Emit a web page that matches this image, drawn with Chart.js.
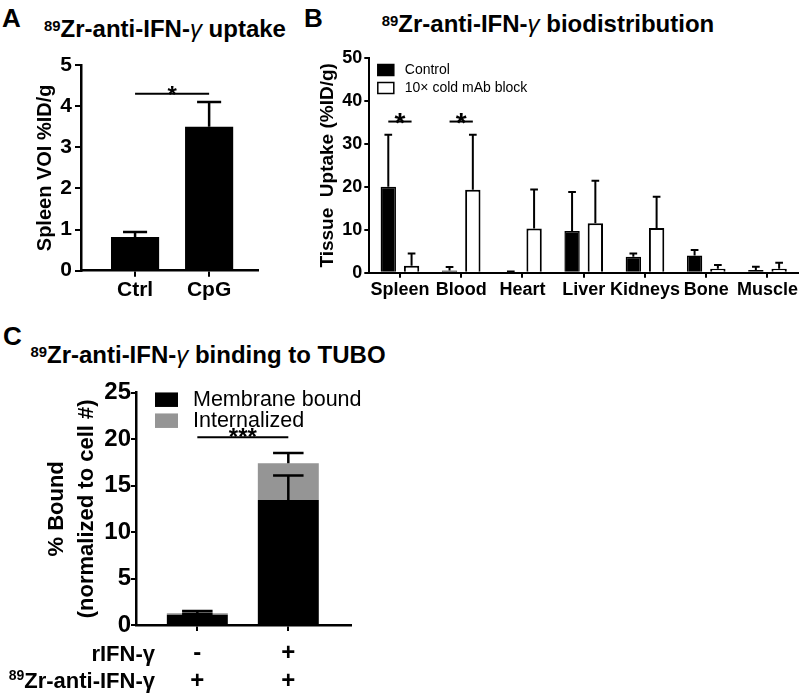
<!DOCTYPE html>
<html>
<head>
<meta charset="utf-8">
<script src="https://cdn.jsdelivr.net/npm/chart.js@4.4.1/dist/chart.umd.min.js"></script>
<style>
  body { margin: 0; background: #fff; width: 800px; height: 693px; position: relative; overflow: hidden;
         font-family: "Liberation Sans", Arial, sans-serif; color: #000; }
  canvas { position: absolute; }
  .txt { position: absolute; font-weight: bold; line-height: 1; white-space: nowrap; }
  .ttl { font-size: 24px; transform: translateX(-50%); }
  .letter { font-size: 26px; }
  sup { font-size: 0.62em; vertical-align: 0.42em; line-height: 0; }
  i { font-weight: normal; }
</style>
</head>
<body>
<div class="txt letter" style="left:2px;top:5px">A</div>
<div class="txt letter" style="left:304px;top:5px">B</div>
<div class="txt letter" style="left:3px;top:323px">C</div>
<div class="txt ttl" style="left:165px;top:17px"><sup>89</sup>Zr-anti-IFN-<i>γ</i> uptake</div>
<div class="txt ttl" style="left:548px;top:12px"><sup>89</sup>Zr-anti-IFN-<i>γ</i> biodistribution</div>
<div class="txt ttl" style="left:208px;top:343px"><sup>89</sup>Zr-anti-IFN-<i>γ</i> binding to TUBO</div>

<canvas id="chartA" width="300" height="270" style="left:0;top:40px;width:300px;height:270px"></canvas>
<canvas id="chartB" width="500" height="270" style="left:300px;top:40px;width:500px;height:270px"></canvas>
<canvas id="chartC" width="400" height="373" style="left:0;top:320px;width:400px;height:373px"></canvas>

<script>
// A - spleen VOI
var groupsA = ['Ctrl', 'CpG'];
var uptakeA = [0.82, 3.5];
var errA = [0.12, 0.6];

// B - biodistribution
var organs = ['Spleen', 'Blood', 'Heart', 'Liver', 'Kidneys', 'Bone', 'Muscle'];
var controlB = [20, 0.5, 0.2, 9.7, 3.7, 4.0, 0.6];
var controlErrB = [12.1, 0.8, 0.1, 9.1, 0.8, 1.3, 0.8];
var blockB = [1.6, 19.3, 10.3, 11.5, 10.4, 0.9, 0.9];
var blockErrB = [2.9, 12.8, 9.1, 9.9, 7.3, 0.9, 1.4];

// C - binding to TUBO
var rowLabelsC = ['rIFN-γ', '⁸⁹Zr-anti-IFN-γ'];
var conditionsC = [['-', '+'], ['+', '+']];
var membraneC = [1.1, 13.45];
var membraneErrC = [0.1, 2.65];
var internalC = [0.16, 3.95];
var internalErrC = [0.24, 1.1];

Chart.defaults.font.family = '"Liberation Sans", Arial, sans-serif';
Chart.defaults.color = '#000';

// error bars (upper only), cap = half bar width
var errorBars = {
  id: 'errorBars',
  afterDatasetsDraw: function (chart, args, opts) {
    var ctx = chart.ctx;
    var yScale = chart.scales.y;
    chart.data.datasets.forEach(function (ds, i) {
      if (!ds.errors) return;
      chart.getDatasetMeta(i).data.forEach(function (bar, j) {
        var top = yScale.getValueForPixel(bar.y);
        var yErr = yScale.getPixelForValue(top + ds.errors[j]);
        var half = bar.width / 4;
        ctx.save();
        ctx.strokeStyle = '#000';
        ctx.lineWidth = opts.width || 2;
        ctx.beginPath();
        ctx.moveTo(bar.x, bar.y);
        ctx.lineTo(bar.x, yErr);
        ctx.moveTo(bar.x - half, yErr);
        ctx.lineTo(bar.x + half, yErr);
        ctx.stroke();
        ctx.restore();
      });
    });
  }
};

// significance bars
var sigBars = {
  id: 'sig',
  afterDatasetsDraw: function (chart, args, opts) {
    if (!opts.items) return;
    var ctx = chart.ctx;
    var yScale = chart.scales.y;
    opts.items.forEach(function (it) {
      var x1 = chart.getDatasetMeta(it.from[0]).data[it.from[1]].x;
      var x2 = chart.getDatasetMeta(it.to[0]).data[it.to[1]].x;
      var y = yScale.getPixelForValue(it.y);
      ctx.save();
      ctx.strokeStyle = '#000';
      ctx.lineWidth = 2;
      ctx.beginPath();
      ctx.moveTo(x1, y);
      ctx.lineTo(x2, y);
      ctx.stroke();
      ctx.font = opts.font;
      ctx.fillStyle = '#000';
      ctx.textAlign = 'center';
      ctx.textBaseline = 'alphabetic';
      ctx.fillText(it.text, (x1 + x2) / 2, y + opts.shift);
      ctx.restore();
    });
  }
};

// legend inside plot area
var boxLegend = {
  id: 'boxLegend',
  afterDraw: function (chart, args, opts) {
    if (!opts.display) return;
    var ctx = chart.ctx, area = chart.chartArea;
    ctx.save();
    ctx.font = opts.font;
    ctx.textBaseline = 'middle';
    ctx.textAlign = 'left';
    chart.data.datasets.forEach(function (ds, i) {
      var cy = area.top + opts.top + i * opts.spacing;
      var bx = area.left + opts.left;
      ctx.fillStyle = ds.backgroundColor;
      ctx.fillRect(bx, cy - opts.boxH / 2, opts.boxW, opts.boxH);
      if (opts.outline) {
        ctx.lineWidth = 1.5;
        ctx.strokeStyle = '#000';
        ctx.strokeRect(bx, cy - opts.boxH / 2, opts.boxW, opts.boxH);
      }
      ctx.fillStyle = '#000';
      ctx.fillText(ds.label, bx + opts.textGap, cy);
    });
    ctx.restore();
  }
};

// row labels left of the +/- table under panel C; leading superscript digits drawn small
var supMap = { '⁰': '0', '¹': '1', '²': '2', '³': '3', '⁴': '4', '⁵': '5', '⁶': '6', '⁷': '7', '⁸': '8', '⁹': '9' };
var rowLabels = {
  id: 'rowLabels',
  afterDraw: function (chart, args, opts) {
    if (!opts.labels) return;
    var ctx = chart.ctx, xs = chart.scales.x;
    ctx.save();
    ctx.fillStyle = '#000';
    ctx.textBaseline = 'middle';
    opts.labels.forEach(function (t, i) {
      var sup = '';
      while (t.length && supMap[t[0]]) { sup += supMap[t[0]]; t = t.slice(1); }
      var right = xs.left + opts.right;
      var y = xs.top + opts.first + i * opts.step;
      ctx.font = 'bold ' + opts.size + 'px "Liberation Sans"';
      ctx.textAlign = 'right';
      ctx.fillText(t, right, y);
      if (sup) {
        var w = ctx.measureText(t).width;
        ctx.font = 'bold ' + Math.round(opts.size * 0.62) + 'px "Liberation Sans"';
        ctx.fillText(sup, right - w, y - opts.size * 0.28);
      }
    });
    ctx.restore();
  }
};

function axisGrid(len) {
  return { display: true, drawOnChartArea: false, drawTicks: true, tickLength: len, color: '#000', lineWidth: 2, offset: false };
}

// ---------- A ----------
new Chart(document.getElementById('chartA'), {
  type: 'bar',
  data: {
    datasets: [{
      label: 'Spleen VOI',
      data: uptakeA.map(function (v, i) { return { x: i, y: v }; }),
      errors: errA,
      backgroundColor: '#000',
      barPercentage: 0.65,
      categoryPercentage: 1
    }]
  },
  options: {
    responsive: false,
    animation: false,
    layout: { padding: { top: 25, right: 42, left: 0, bottom: 0 } },
    plugins: {
      legend: { display: false },
      tooltip: { enabled: false },
      errorBars: { width: 2.5 },
      sig: { font: 'bold 24px "Liberation Sans"', shift: 9, items: [{ from: [0, 0], to: [0, 1], y: 4.3, text: '*' }] }
    },
    scales: {
      x: {
        type: 'linear', min: -0.73, max: 1.66, offset: false,
        afterBuildTicks: function (s) { s.ticks = groupsA.map(function (g, i) { return { value: i }; }); },
        ticks: { callback: function (v) { return groupsA[v]; }, font: { size: 21, weight: 'bold' }, padding: 1, autoSkip: false, maxRotation: 0 },
        grid: axisGrid(6),
        border: { color: '#000', width: 2.5 },
        afterFit: function (s) { s.height = 39.3; }
      },
      y: {
        min: 0, max: 5,
        ticks: { stepSize: 1, font: { size: 21, weight: 'bold' }, padding: 3 },
        grid: axisGrid(6),
        border: { color: '#000', width: 2.5 },
        title: { display: true, text: 'Spleen VOI %ID/g', font: { size: 20, weight: 'bold', lineHeight: 1.2 }, padding: { top: 33, bottom: 0 } },
        afterFit: function (s) { s.width = 81; }
      }
    }
  },
  plugins: [errorBars, sigBars]
});

// ---------- B ----------
new Chart(document.getElementById('chartB'), {
  type: 'bar',
  data: {
    labels: organs,
    datasets: [{
      label: 'Control',
      data: controlB,
      errors: controlErrB,
      backgroundColor: '#000',
      borderColor: '#000',
      borderWidth: 1.5,
      barPercentage: 0.66,
      categoryPercentage: 0.76
    }, {
      label: '10\u00d7 cold mAb block',
      data: blockB,
      errors: blockErrB,
      backgroundColor: '#fff',
      borderColor: '#000',
      borderWidth: 2,
      barPercentage: 0.66,
      categoryPercentage: 0.76
    }]
  },
  options: {
    responsive: false,
    animation: false,
    layout: { padding: { top: 18, right: 0, left: 0, bottom: 0 } },
    plugins: {
      legend: { display: false },
      tooltip: { enabled: false },
      errorBars: { width: 2 },
      boxLegend: { display: true, font: '14px "Liberation Sans"', left: 8.5, top: 12, spacing: 18, boxW: 16, boxH: 11, textGap: 27, outline: true },
      sig: { font: 'bold 28px "Liberation Sans"', shift: 10, items: [
        { from: [0, 0], to: [1, 0], y: 35.2, text: '*' },
        { from: [0, 1], to: [1, 1], y: 35.2, text: '*' }
      ] }
    },
    scales: {
      x: {
        ticks: { font: { size: 18, weight: 'bold' }, padding: 2, autoSkip: false, maxRotation: 0 },
        grid: axisGrid(5),
        border: { color: '#000', width: 2 },
        afterFit: function (s) { s.height = 37.3; }
      },
      y: {
        min: 0, max: 50,
        ticks: { stepSize: 10, font: { size: 18, weight: 'bold' }, padding: 2 },
        grid: axisGrid(5),
        border: { color: '#000', width: 2 },
        title: { display: true, text: 'Tissue  Uptake (%ID/g)', font: { size: 19, weight: 'bold', lineHeight: 1.2 }, padding: { top: 16.6, bottom: 0 } },
        afterFit: function (s) { s.width = 69.3; }
      }
    }
  },
  plugins: [errorBars, sigBars, boxLegend]
});

// ---------- C ----------
new Chart(document.getElementById('chartC'), {
  type: 'bar',
  data: {
    datasets: [{
      label: 'Membrane bound',
      data: membraneC.map(function (v, i) { return { x: i, y: v }; }),
      errors: membraneErrC,
      backgroundColor: '#000',
      barPercentage: 0.67,
      categoryPercentage: 1
    }, {
      label: 'Internalized',
      data: internalC.map(function (v, i) { return { x: i, y: v }; }),
      errors: internalErrC,
      backgroundColor: '#959595',
      barPercentage: 0.67,
      categoryPercentage: 1
    }]
  },
  options: {
    responsive: false,
    animation: false,
    layout: { padding: { top: 72.7, right: 49, left: 0, bottom: 0 } },
    plugins: {
      legend: { display: false },
      tooltip: { enabled: false },
      errorBars: { width: 2.5 },
      boxLegend: { display: true, font: '21.5px "Liberation Sans"', left: 19, top: 7, spacing: 21, boxW: 23, boxH: 14.5, textGap: 38, outline: false },
      sig: { font: 'bold 24px "Liberation Sans"', shift: 8, items: [{ from: [0, 0], to: [0, 1], y: 20.2, text: '***' }] },
      rowLabels: { labels: rowLabelsC, size: 22, right: 19, first: 29.5, step: 27.7 }
    },
    scales: {
      x: {
        type: 'linear', min: -0.674, max: 1.689, stacked: true, offset: false,
        afterBuildTicks: function (s) { s.ticks = conditionsC.map(function (c, i) { return { value: i }; }); },
        ticks: { callback: function (v) { return [conditionsC[0][v], conditionsC[1][v]]; }, font: { size: 24, weight: 'bold', lineHeight: '27.7px' }, padding: 9, autoSkip: false, maxRotation: 0 },
        grid: axisGrid(6),
        border: { color: '#000', width: 2.5 },
        afterFit: function (s) { s.height = 68; }
      },
      y: {
        min: 0, max: 25, stacked: true,
        ticks: { stepSize: 5, font: { size: 24, weight: 'bold' }, padding: 0 },
        grid: axisGrid(5),
        border: { color: '#000', width: 2.5 },
        title: { display: true, text: ['% Bound', '(normalized to cell #)'], font: { size: 22, weight: 'bold', lineHeight: '30px' }, padding: { top: 42, bottom: 0 } },
        afterFit: function (s) { s.width = 136; }
      }
    }
  },
  plugins: [errorBars, sigBars, boxLegend, rowLabels]
});
</script>
</body>
</html>
